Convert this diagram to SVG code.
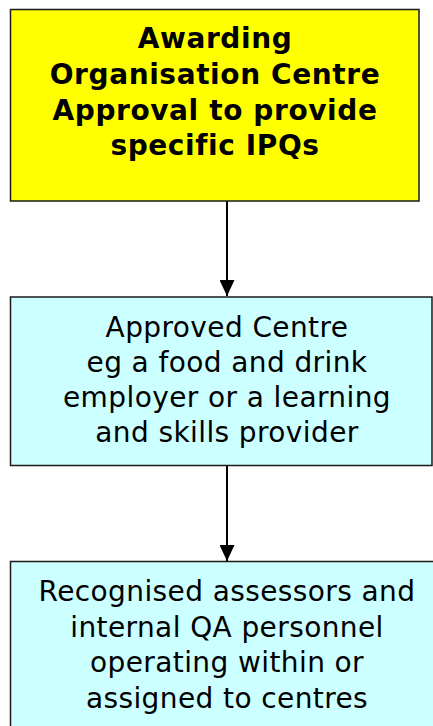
<svg xmlns="http://www.w3.org/2000/svg" width="433" height="726" viewBox="0 0 433 726">
<defs>
<style>
.box{stroke:#1a1a1a;stroke-width:1.5}
.t{font-family:"DejaVu Sans",Verdana,sans-serif;font-size:28px;fill:#000;text-anchor:middle;letter-spacing:0.4px}
.b{font-weight:bold;letter-spacing:0.6px}
.conn{stroke:#000;stroke-width:2;fill:none}
</style>
<marker id="ah" markerWidth="16" markerHeight="15" refX="16" refY="7.5" orient="auto" markerUnits="userSpaceOnUse">
<path d="M0,0 L16,7.5 L0,15 Z" fill="#000"/>
</marker>
</defs>
<rect width="433" height="726" fill="#fff"/>
<g id="connectors">
<line class="conn" x1="227" y1="201" x2="227" y2="296" marker-end="url(#ah)"/>
<line class="conn" x1="227" y1="466" x2="227" y2="561" marker-end="url(#ah)"/>
</g>
<g id="node-awarding">
<rect class="box" x="10.5" y="9.5" width="408.5" height="191.5" fill="#ffff00"/>
<text class="t b" x="215" y="48">Awarding</text>
<text class="t b" x="215" y="84">Organisation Centre</text>
<text class="t b" x="215" y="119.5">Approval to provide</text>
<text class="t b" x="215" y="155">specific IPQs</text>
</g>
<g id="node-centre">
<rect class="box" x="10.5" y="297" width="421.5" height="168.5" fill="#ccffff"/>
<text class="t" x="227" y="337">Approved Centre</text>
<text class="t" x="227" y="372">eg a food and drink</text>
<text class="t" x="227" y="407">employer or a learning</text>
<text class="t" x="227" y="442">and skills provider</text>
</g>
<g id="node-assessors">
<rect class="box" x="10.5" y="561.5" width="430" height="175" fill="#ccffff"/>
<text class="t" x="227" y="601">Recognised assessors and</text>
<text class="t" x="227" y="636.5">internal QA personnel</text>
<text class="t" x="227" y="672">operating within or</text>
<text class="t" x="227" y="707.5">assigned to centres</text>
</g>
</svg>
